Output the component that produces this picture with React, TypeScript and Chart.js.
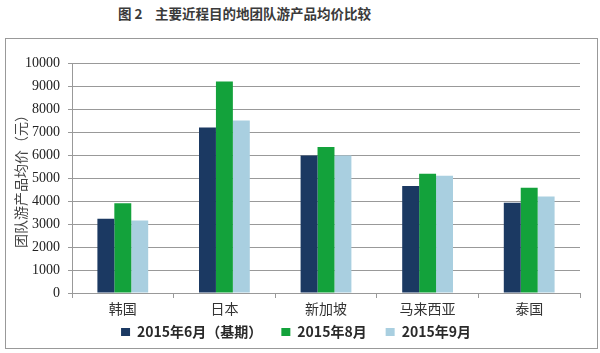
import React, { useEffect, useRef } from "react";
import { Chart, registerables } from "chart.js";

Chart.register(...registerables);

const titleLabel = "图 2";
const titleText = "主要近程目的地团队游产品均价比较";
const yAxisTitle = "团队游产品均价（元）";
const categories = ["韩国", "日本", "新加坡", "马来西亚", "泰国"];
const seriesNames = ["2015年6月（基期）", "2015年8月", "2015年9月"];
const june = [3230, 7200, 5980, 4650, 3920];
const august = [3900, 9200, 6350, 5180, 4580];
const september = [3150, 7500, 5980, 5100, 4200];
const seriesColors = ["#1b3962", "#13a23b", "#a9cfe0"];
const yMin = 0;
const yMax = 10000;
const yStep = 1000;

export default function App() {
  const canvasRef = useRef<HTMLCanvasElement | null>(null);

  useEffect(() => {
    if (!canvasRef.current) return;
    const seriesValues = [june, august, september];
    const chart = new Chart(canvasRef.current, {
      type: "bar",
      data: {
        labels: categories,
        datasets: seriesNames.map((name, i) => ({
          label: name,
          data: seriesValues[i],
          backgroundColor: seriesColors[i],
          borderWidth: 0,
          barPercentage: 1,
          categoryPercentage: 0.5,
        })),
      },
      options: {
        animation: false,
        responsive: true,
        maintainAspectRatio: false,
        layout: { padding: { left: 12, right: 20, top: 63, bottom: 4 } },
        plugins: {
          tooltip: { enabled: false },
          title: { display: false },
          legend: {
            position: "bottom",
            title: {
              display: true,
              text: "",
              font: { size: 10, lineHeight: 1 },
              padding: { top: -23, bottom: 0 },
            },
            labels: {
              boxWidth: 9,
              boxHeight: 8,
              padding: 19,
              color: "#2a2a2a",
              font: { family: "'Noto Sans CJK SC', 'Liberation Sans', sans-serif", size: 14, weight: "bold" },
            },
          },
        },
        scales: {
          x: {
            grid: { display: true, drawOnChartArea: false, tickLength: 5, color: "#999", offset: true },
            border: { color: "#999" },
            ticks: {
              color: "#333",
              padding: 2,
              maxRotation: 0,
              font: { family: "'Noto Sans CJK SC', sans-serif", size: 14 },
            },
            afterFit: (s: any) => {
              s.height = 26;
            },
          },
          y: {
            min: yMin,
            max: yMax,
            ticks: {
              stepSize: yStep,
              color: "#222",
              padding: 8,
              font: { family: "'Liberation Serif', serif", size: 14 },
              callback: (v: any) => String(v),
            },
            grid: { color: "#999", tickLength: 4 },
            border: { color: "#999" },
            title: {
              display: true,
              text: yAxisTitle,
              color: "#444",
              padding: { top: 0, bottom: 0 },
              font: { family: "'Noto Sans CJK SC', sans-serif", size: 14 },
            },
            afterFit: (s: any) => {
              s.width = 60;
            },
          },
        },
      },
    });
    return () => chart.destroy();
  }, []);

  const titleStyle: React.CSSProperties = {
    position: "absolute",
    top: 5,
    whiteSpace: "pre",
    fontFamily: "'Noto Sans CJK SC', sans-serif",
    fontWeight: "bold",
    fontSize: 13.5,
    lineHeight: "17px",
    color: "#3a3a3a",
  };

  return (
    <div style={{ position: "absolute", left: 0, top: 0, width: 600, height: 353, background: "#fff" }}>
      <div style={{ ...titleStyle, left: 118 }}>{titleLabel}</div>
      <div style={{ ...titleStyle, left: 155 }}>{titleText}</div>
      <div
        style={{
          position: "absolute",
          left: 5,
          top: 38,
          width: 591,
          height: 309,
          border: "1px solid #999",
        }}
      />
      <div style={{ position: "absolute", left: 0, top: 0, width: 600, height: 353 }}>
        <canvas ref={canvasRef} />
      </div>
    </div>
  );
}
